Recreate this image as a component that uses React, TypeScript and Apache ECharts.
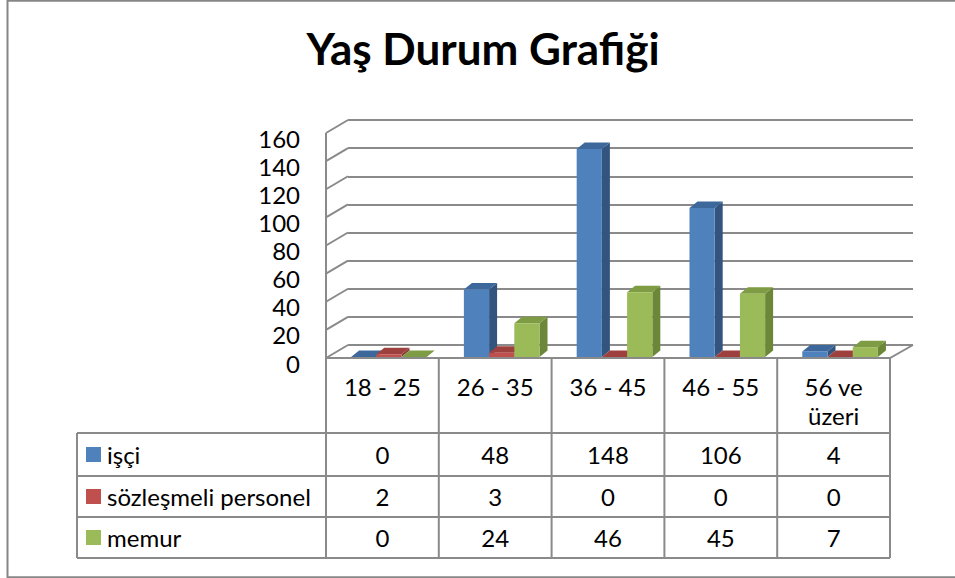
import React, { useEffect, useRef } from "react";
import * as echarts from "echarts";

// ---------- data ----------
const categories = ["18 - 25", "26 - 35", "36 - 45", "46 - 55", "56 ve\nüzeri"];
const seriesNames = ["işçi", "sözleşmeli personel", "memur"];
const isci = [0, 48, 148, 106, 4];
const sozlesmeli = [2, 3, 0, 0, 0];
const memur = [0, 24, 46, 45, 7];
const yTicks = [0, 20, 40, 60, 80, 100, 120, 140, 160];
const titleText = "Yaş Durum Grafiği";

// ---------- styling / layout ----------
const FONT = "Lato";
const FS = 24;
const GRID0 = { left: 326, top: 132, width: 564, height: 225 };
const GRID1 = { left: 348, top: 120, width: 565, height: 225 };
const WX = 22;
const WY = 13;
const DX = 8;
const DY = 6.5;
const BAR_FRAC = 0.2235;
const GROUP_SHIFT = 6.5;
const LINE = "#8a8a8a";
const COLORS = [
  { front: "#4F81BD", side: "#33547E", top: "#3D689C" },
  { front: "#C0504D", side: "#8C3A38", top: "#9E403D" },
  { front: "#9BBB59", side: "#6C8738", top: "#7E9C43" },
];
const TABLE = {
  left: 77,
  colLeft: 326,
  colW: 112.8,
  headTop: 358,
  rows: [433, 476, 517, 558],
};

const allSeries = [isci, sozlesmeli, memur];

function barRenderer(si: number) {
  const c = COLORS[si];
  return (params: any, api: any) => {
    const idx = api.value(0);
    const val = api.value(1);
    const top = api.coord([idx, val]);
    const base = api.coord([idx, 0]);
    const bw = api.size([1, 0])[0] * BAR_FRAC;
    const x0 = top[0] + GROUP_SHIFT - 1.5 * bw + si * bw;
    const x1 = x0 + bw;
    const yt = top[1];
    const yb = base[1];
    return {
      type: "group",
      children: [
        {
          type: "polygon",
          shape: { points: [[x1, yt], [x1 + DX, yt - DY], [x1 + DX, yb - DY], [x1, yb]] },
          style: { fill: c.side },
        },
        {
          type: "polygon",
          shape: { points: [[x0, yt], [x0 + DX, yt - DY], [x1 + DX, yt - DY], [x1, yt]] },
          style: { fill: c.top },
        },
        {
          type: "rect",
          shape: { x: x0, y: yt, width: bw, height: Math.max(0, yb - yt) },
          style: { fill: c.front },
        },
      ],
    };
  };
}

function wallRenderer(params: any, api: any) {
  const t = api.value(1);
  const p = api.coord([0, t]);
  const y0 = api.coord([0, 0])[1];
  const cs = params.coordSys;
  const children: any[] = [
    {
      type: "line",
      shape: { x1: cs.x - WX, y1: p[1] + WY, x2: cs.x, y2: p[1] },
      style: { stroke: LINE, lineWidth: 2 },
    },
  ];
  if (t === 0) {
    children.push({
      type: "polyline",
      shape: {
        points: [
          [cs.x - WX, y0 + WY],
          [cs.x + cs.width - 23, y0 + WY],
          [cs.x + cs.width, y0],
        ],
      },
      style: { stroke: LINE, lineWidth: 2, fill: "none" },
    });
  }
  if (t === yTicks[yTicks.length - 1]) {
    children.push({
      type: "line",
      shape: { x1: cs.x - WX, y1: p[1] + WY, x2: cs.x - WX, y2: y0 + WY },
      style: { stroke: LINE, lineWidth: 2 },
    });
  }
  return { type: "group", children };
}

function buildTableGraphics(): any[] {
  const g: any[] = [];
  const right = TABLE.colLeft + TABLE.colW * categories.length;
  const bottom = TABLE.rows[TABLE.rows.length - 1];
  for (let i = 0; i <= categories.length; i++) {
    const x = TABLE.colLeft + TABLE.colW * i;
    g.push({
      type: "line",
      shape: { x1: x, y1: TABLE.headTop, x2: x, y2: bottom },
      style: { stroke: LINE, lineWidth: 2 },
    });
  }
  g.push({
    type: "line",
    shape: { x1: TABLE.left, y1: TABLE.rows[0], x2: TABLE.left, y2: bottom },
    style: { stroke: LINE, lineWidth: 2 },
  });
  TABLE.rows.forEach((y) => {
    g.push({
      type: "line",
      shape: { x1: TABLE.left, y1: y, x2: right, y2: y },
      style: { stroke: LINE, lineWidth: 2 },
    });
  });
  categories.forEach((c, i) => {
    g.push({
      type: "text",
      style: {
        text: c,
        x: TABLE.colLeft + TABLE.colW * (i + 0.5),
        y: 372,
        align: "center",
        verticalAlign: "top",
        fontSize: FS,
        fontFamily: FONT,
        lineHeight: 29,
        fill: "#000",
      },
    });
  });
  seriesNames.forEach((name, r) => {
    const yc = (TABLE.rows[r] + TABLE.rows[r + 1]) / 2;
    g.push({
      type: "rect",
      shape: { x: 86, y: yc - 7.5, width: 15, height: 15 },
      style: { fill: COLORS[r].front },
    });
    g.push({
      type: "text",
      style: {
        text: name,
        x: 107,
        y: yc,
        align: "left",
        verticalAlign: "middle",
        fontSize: FS,
        fontFamily: FONT,
        fill: "#000",
      },
    });
    allSeries[r].forEach((v, i) => {
      g.push({
        type: "text",
        style: {
          text: String(v),
          x: TABLE.colLeft + TABLE.colW * (i + 0.5),
          y: yc,
          align: "center",
          verticalAlign: "middle",
          fontSize: FS,
          fontFamily: FONT,
          fill: "#000",
        },
      });
    });
  });
  return g;
}

export default function App() {
  const ref = useRef<HTMLDivElement>(null);
  useEffect(() => {
    if (!ref.current) return;
    const chart = echarts.init(ref.current, null, { renderer: "svg" });
    const option: any = {
      animation: false,
      backgroundColor: "#ffffff",
      grid: [
        { ...GRID0, containLabel: false },
        { ...GRID1, containLabel: false },
      ],
      xAxis: [
        { type: "category", gridIndex: 0, data: categories, show: false },
        { type: "value", gridIndex: 1, min: 0, max: 1, show: false },
      ],
      yAxis: [
        {
          type: "value",
          gridIndex: 0,
          min: 0,
          max: 160,
          interval: 20,
          axisLine: { show: false },
          axisTick: { show: false },
          splitLine: { show: false },
          axisLabel: {
            fontSize: FS,
            fontFamily: FONT,
            color: "#000",
            margin: 26,
            verticalAlign: "top",
            lineHeight: 12,
          },
        },
        {
          type: "value",
          gridIndex: 1,
          min: 0,
          max: 160,
          interval: 20,
          axisLine: { show: false },
          axisTick: { show: false },
          axisLabel: { show: false },
          splitLine: { show: true, lineStyle: { color: LINE, width: 2 } },
        },
      ],
      series: [
        {
          type: "custom",
          name: "wall",
          xAxisIndex: 1,
          yAxisIndex: 1,
          renderItem: wallRenderer,
          data: yTicks.map((t) => [0, t]),
          encode: { x: 0, y: 1 },
          silent: true,
          z: 1,
        },
        ...allSeries.map((vals, si) => ({
          type: "custom",
          name: seriesNames[si],
          xAxisIndex: 0,
          yAxisIndex: 0,
          renderItem: barRenderer(si),
          data: vals.map((v, i) => [i, v]),
          encode: { x: 0, y: 1 },
          z: 2 + si,
        })),
      ],
      graphic: [
        {
          type: "rect",
          shape: { x: 7.5, y: 0.75, width: 960, height: 576.5 },
          style: { fill: "none", stroke: "#868686", lineWidth: 2 },
          silent: true,
        },
        {
          type: "text",
          style: {
            text: titleText,
            x: 483,
            y: 48,
            align: "center",
            verticalAlign: "middle",
            fontSize: 44,
            fontWeight: "bold",
            fontFamily: FONT,
            fill: "#000",
          },
        },
        ...buildTableGraphics(),
      ],
    };
    chart.setOption(option);
    return () => chart.dispose();
  }, []);
  return (
    <div
      ref={ref}
      style={{ position: "fixed", left: 0, top: 0, width: 955, height: 578 }}
    />
  );
}
